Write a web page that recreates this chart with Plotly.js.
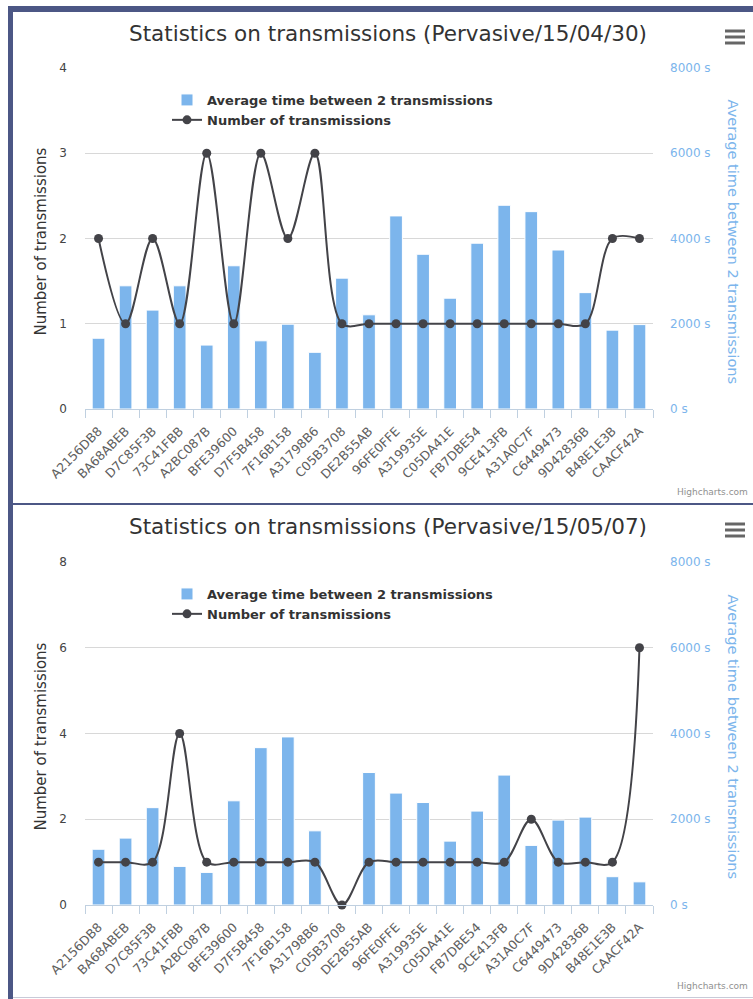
<!DOCTYPE html>
<html>
<head>
<meta charset="utf-8">
<script src="https://cdn.plot.ly/plotly-3.0.1.min.js"></script>
<style>
  html, body { margin: 0; padding: 0; background: #ffffff; }
  #frame { position: absolute; left: 8px; top: 6px; width: 745px; height: 993px;
           border-left: 5px solid #4c5785; border-top: 6px solid #4c5785; box-sizing: border-box; }
  #c1 { position: absolute; left: 0; top: 0; width: 740px; height: 491px; }
  #sep { position: absolute; left: 0; top: 491px; width: 740px; height: 2px; background: #4c5785; }
  #c2 { position: absolute; left: 0; top: 493px; width: 740px; height: 492px; }
  #bot { position: absolute; left: 0; top: 985px; width: 740px; height: 1px; background: #c8cad8; }
</style>
</head>
<body>
<div id="frame">
  <div id="c1"></div>
  <div id="sep"></div>
  <div id="c2"></div>
  <div id="bot"></div>
</div>
<script>
// ---------- data ----------
const categories = ["A2156DB8","BA68ABEB","D7C85F3B","73C41FBB","A2BC087B","BFE39600","D7F5B458","7F16B158","A31798B6","C05B3708","DE2B55AB","96FE0FFE","A319935E","C05DA41E","FB7DBE54","9CE413FB","A31A0C7F","C6449473","9D42836B","B48E1E3B","CAACF42A"];

const title1 = "Statistics on transmissions (Pervasive/15/04/30)";
const avgTime1 = [1660, 2890, 2320, 2890, 1500, 3360, 1600, 1990, 1330, 3070, 2210, 4530, 3630, 2600, 3890, 4780, 4630, 3730, 2730, 1850, 1980];
const count1   = [2, 1, 2, 1, 3, 1, 3, 2, 3, 1, 1, 1, 1, 1, 1, 1, 1, 1, 1, 2, 2];

const title2 = "Statistics on transmissions (Pervasive/15/05/07)";
const avgTime2 = [1300, 1560, 2270, 900, 760, 2430, 3670, 3920, 1730, 0, 3090, 2610, 2390, 1490, 2190, 3030, 1390, 1980, 2050, 660, 540];
const count2   = [1, 1, 1, 4, 1, 1, 1, 1, 1, 0, 1, 1, 1, 1, 1, 1, 2, 1, 1, 1, 6];

const barName = "Average time between 2 transmissions";
const lineName = "Number of transmissions";
const leftTitle = "Number of transmissions";
const rightTitle = "Average time between 2 transmissions";
const credit = "Highcharts.com";

// ---------- drawing ----------
function makeChart(divId, title, avg, count, leftMax, leftDtick, H, T, B) {
  const W = 740, L = 72, R = 100;
  const pw = W - L - R, ph = H - T - B;
  const px = x => (x - L) / pw;
  const py = y => 1 - (y - T) / ph;

  const traces = [
    {
      type: 'bar', name: barName, x: categories, y: avg, yaxis: 'y',
      marker: { color: '#7cb5ec', line: { color: '#ffffff', width: 1 } },
      hoverinfo: 'x+y'
    },
    {
      type: 'scatter', mode: 'lines+markers', name: lineName, x: categories, y: count, yaxis: 'y2',
      line: { color: '#434348', width: 2, shape: 'spline', smoothing: 0.95 },
      marker: { color: '#434348', size: 9, symbol: 'circle' },
      cliponaxis: false
    }
  ];

  const iconShapes = [19, 25, 31].map(y => ({
    type: 'line', xref: 'paper', yref: 'paper',
    x0: px(712), x1: px(732), y0: py(y), y1: py(y),
    line: { color: '#666666', width: 3 }
  }));

  const layout = {
    width: W, height: H,
    margin: { l: L, r: R, t: T, b: B, pad: 0 },
    paper_bgcolor: '#ffffff', plot_bgcolor: '#ffffff',
    font: { family: 'DejaVu Sans, sans-serif', color: '#333333' },
    title: {
      text: title, font: { size: 21.5, color: '#333333', family: 'DejaVu Sans, sans-serif' },
      xref: 'container', x: 375 / W, xanchor: 'center',
      yref: 'container', y: 1 - 21 / H, yanchor: 'middle'
    },
    showlegend: true,
    legend: {
      x: px(154), y: py(T + 17), xanchor: 'left', yanchor: 'top',
      bgcolor: 'rgba(0,0,0,0)', traceorder: 'normal',
      font: { size: 13, weight: 'bold', color: '#333333' }
    },
    bargap: 0.53,
    xaxis: {
      type: 'category', range: [-0.5, categories.length - 0.5],
      tickson: 'boundaries', ticks: 'outside', ticklen: 8, tickcolor: '#C0D0E0', tickwidth: 1,
      showline: true, linecolor: '#C0D0E0', linewidth: 1,
      showgrid: false, zeroline: false, ticklabelstandoff: 9,
      tickangle: -45, tickfont: { size: 12.5, color: '#606060' }
    },
    yaxis: {
      side: 'right', range: [0, 8000], tick0: 0, dtick: 2000, tickformat: 'd', ticksuffix: ' s',
      tickfont: { size: 12, color: '#7cb5ec' }, ticklabelstandoff: 16,
      showgrid: true, gridcolor: '#D8D8D8', gridwidth: 1, zeroline: false, showline: false
    },
    yaxis2: {
      overlaying: 'y', side: 'left', range: [0, leftMax], tick0: 0, dtick: leftDtick,
      tickfont: { size: 12, color: '#444444' }, ticklabelstandoff: 17,
      showgrid: false, zeroline: false, showline: false
    },
    shapes: iconShapes,
    annotations: [
      { text: leftTitle, xref: 'paper', yref: 'paper', x: px(27), y: py(T + ph / 2 + 3), textangle: -90,
        showarrow: false, xanchor: 'center', yanchor: 'middle',
        font: { size: 15, color: '#333333' } },
      { text: rightTitle, xref: 'paper', yref: 'paper', x: px(720), y: py(T + ph / 2 + 3), textangle: 90,
        showarrow: false, xanchor: 'center', yanchor: 'middle',
        font: { size: 14.6, color: '#7cb5ec' } },
      { text: credit, xref: 'paper', yref: 'paper', x: px(737), y: py(H - 11), xanchor: 'right', yanchor: 'middle',
        showarrow: false, font: { size: 9, color: '#909090' } }
    ]
  };

  Plotly.newPlot(divId, traces, layout, { displayModeBar: false, staticPlot: false });
}

makeChart('c1', title1, avgTime1, count1, 4, 1, 491, 56, 94);
makeChart('c2', title2, avgTime2, count2, 8, 2, 492, 57, 92);
</script>
</body>
</html>
